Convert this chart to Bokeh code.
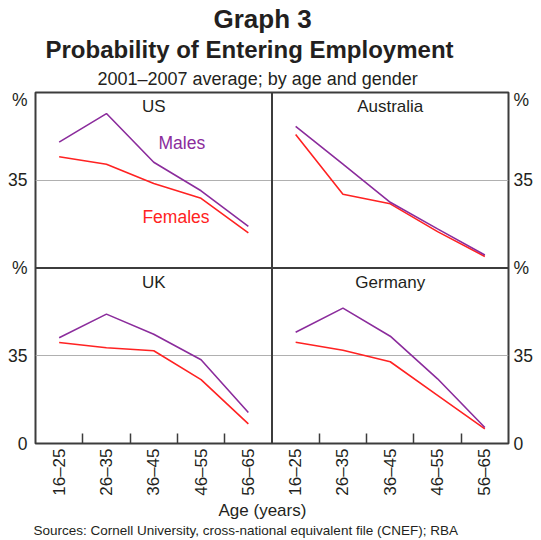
from bokeh.plotting import figure
from bokeh.models import Range1d, LinearAxis, FixedTicker, Span, Label, Title
from bokeh.embed import file_html
from bokeh.resources import INLINE
import math

ages = ["16–25", "26–35", "36–45", "46–55", "56–65"]

us_males = [50.2, 61.6, 42.2, 30.8, 16.6]
us_females = [44.4, 41.4, 33.7, 27.8, 14.0]
aus_males = [56.5, 41.4, 26.2, 15.6, 5.2]
aus_females = [53.2, 29.4, 25.6, 14.5, 4.6]
uk_males = [42.2, 51.6, 43.6, 33.4, 12.4]
uk_females = [40.3, 38.2, 37.0, 25.5, 7.8]
ger_males = [44.4, 54.0, 42.8, 25.8, 6.4]
ger_females = [40.4, 37.2, 32.6, 19.2, 5.8]

y_ticks = [0, 35, 70, 105, 137]
y_labels = ["0", "35", "%", "35", "%"]

MALE = "#8b2c9c"
FEMALE = "#ff2222"
DARK = "#3c3c3c"
TEXT = "#231f20"
FONT = "Liberation Sans"

pos = [i + 0.5 for i in range(len(ages))]

p = figure(width=541, height=540, output_backend="svg", toolbar_location=None,
           x_range=Range1d(0, 10), y_range=Range1d(0, 140),
           min_border_left=35, min_border_right=33, min_border_top=92, min_border_bottom=97,
           x_axis_location=None, y_axis_location=None)
p.extra_x_ranges = {"right": Range1d(-5, 5)}
p.extra_y_ranges = {"top": Range1d(-70, 70)}

p.outline_line_color = DARK
p.outline_line_width = 2
p.background_fill_color = "white"
p.border_fill_color = "white"
p.xgrid.visible = False
p.ygrid.ticker = FixedTicker(ticks=[35, 105])
p.ygrid.grid_line_color = "#b0b0b0"
p.ygrid.grid_line_width = 1

p.add_layout(Span(location=70, dimension="width", line_color=DARK, line_width=2))
p.add_layout(Span(location=5, dimension="height", line_color=DARK, line_width=2))

for side, standoff in (("left", 8), ("right", 5)):
    ax = LinearAxis(ticker=FixedTicker(ticks=y_ticks),
                    major_label_overrides={t: l for t, l in zip(y_ticks, y_labels)})
    ax.axis_line_color = None
    ax.major_tick_line_color = None
    ax.minor_tick_line_color = None
    ax.major_tick_in = 0
    ax.major_tick_out = 0
    ax.minor_tick_in = 0
    ax.minor_tick_out = 0
    ax.major_label_standoff = standoff
    ax.major_label_text_font = FONT
    ax.major_label_text_font_size = "17.5px"
    ax.major_label_text_color = TEXT
    p.add_layout(ax, side)

xt = pos + [v + 5 for v in pos]
xl = ages + ages
xax = LinearAxis(ticker=FixedTicker(ticks=xt, minor_ticks=[1, 2, 3, 4, 6, 7, 8, 9]),
                 major_label_overrides={t: l for t, l in zip(xt, xl)})
xax.axis_line_color = None
xax.major_tick_line_color = None
xax.major_tick_in = 0
xax.major_tick_out = 0
xax.minor_tick_line_color = DARK
xax.minor_tick_line_width = 1.5
xax.minor_tick_in = 10
xax.minor_tick_out = 0
xax.major_label_orientation = math.pi / 2
xax.major_label_standoff = 5
xax.major_label_text_font = FONT
xax.major_label_text_font_size = "17px"
xax.major_label_text_color = TEXT
p.add_layout(xax, "below")

p.add_layout(Title(text="Age (years)", align="left", offset=183, text_font=FONT,
                   text_font_size="17px", text_font_style="normal", text_color=TEXT,
                   standoff=0), "below")
p.add_layout(Title(text="Sources: Cornell University, cross-national equivalent file (CNEF); RBA",
                   align="left", offset=-2, text_font=FONT, text_font_size="13.5px",
                   text_font_style="normal", text_color=TEXT, standoff=2), "below")

p.add_layout(Title(text="2001–2007 average; by age and gender", align="left", offset=62,
                   text_font=FONT, text_font_size="18px", text_font_style="normal",
                   text_color=TEXT, standoff=8), "above")
p.add_layout(Title(text="Probability of Entering Employment", align="left", offset=10,
                   text_font=FONT, text_font_size="24px", text_font_style="bold",
                   text_color=TEXT, standoff=0), "above")
p.add_layout(Title(text="Graph 3", align="left", offset=178, text_font=FONT,
                   text_font_size="26px", text_font_style="bold", text_color=TEXT,
                   standoff=0), "above")

panels = [
    ("US", us_males, us_females, "default", "top"),
    ("Australia", aus_males, aus_females, "right", "top"),
    ("UK", uk_males, uk_females, "default", "default"),
    ("Germany", ger_males, ger_females, "right", "default"),
]
for name, m, f, xr, yr in panels:
    p.line(pos, f, line_color=FEMALE, line_width=1.6, x_range_name=xr, y_range_name=yr)
    p.line(pos, m, line_color=MALE, line_width=1.6, x_range_name=xr, y_range_name=yr)
    p.add_layout(Label(x=2.5, y=64.4, text=name, text_align="center", text_baseline="middle",
                       text_font=FONT, text_font_size="17px", text_color=TEXT,
                       x_range_name=xr, y_range_name=yr))

p.add_layout(Label(x=2.6, y=49.7, text="Males", text_align="left", text_baseline="middle",
                   text_font=FONT, text_font_size="17.5px", text_color=MALE, y_range_name="top"))
p.add_layout(Label(x=2.26, y=20.5, text="Females", text_align="left", text_baseline="middle",
                   text_font=FONT, text_font_size="17.5px", text_color=FEMALE, y_range_name="top"))

open("out.html", "w").write(file_html(p, INLINE))
